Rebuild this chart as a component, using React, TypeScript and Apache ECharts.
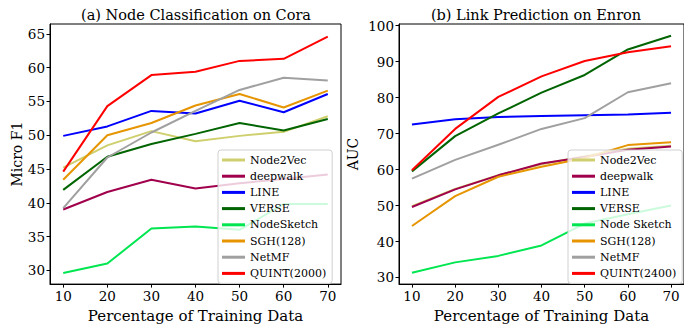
import React, { useEffect, useRef } from "react";
import * as echarts from "echarts";

const trainPct = [10, 20, 30, 40, 50, 60, 70];
const xTicks = [10, 20, 30, 40, 50, 60, 70];
const yTicksCora = [30, 35, 40, 45, 50, 55, 60, 65];
const yTicksEnron = [30, 40, 50, 60, 70, 80, 90, 100];

const namesCora = ["Node2Vec", "deepwalk", "LINE", "VERSE", "NodeSketch", "SGH(128)", "NetMF", "QUINT(2000)"];
const namesEnron = ["Node2Vec", "deepwalk", "LINE", "VERSE", "Node Sketch", "SGH(128)", "NetMF", "QUINT(2400)"];
const colors = ["#cfcf6e", "#a0004c", "#0000ff", "#006400", "#00e650", "#e69500", "#a0a0a0", "#ff0000"];

const node2vecCora = [45.2, 48.5, 50.6, 49.1, 49.9, 50.5, 52.8];
const deepwalkCora = [39.0, 41.6, 43.4, 42.1, 42.9, 43.5, 44.2];
const lineCora = [49.9, 51.3, 53.6, 53.2, 55.1, 53.4, 56.1];
const verseCora = [41.9, 46.8, 48.7, 50.2, 51.8, 50.7, 52.4];
const nodeSketchCora = [29.6, 31.0, 36.2, 36.5, 36.0, 39.8, 39.8];
const sghCora = [43.4, 50.0, 51.8, 54.4, 56.1, 54.1, 56.6];
const netmfCora = [39.2, 46.7, 50.4, 53.6, 56.7, 58.5, 58.1];
const quintCora = [44.6, 54.3, 58.9, 59.4, 61.0, 61.3, 64.6];

const node2vecEnron = [49.8, 54.6, 58.4, 61.5, 63.8, 65.8, 66.6];
const deepwalkEnron = [49.6, 54.5, 58.4, 61.7, 63.5, 65.5, 66.4];
const lineEnron = [72.5, 74.0, 74.6, 74.9, 75.1, 75.3, 75.8];
const verseEnron = [59.5, 69.3, 75.6, 81.4, 86.3, 93.4, 97.2];
const nodeSketchEnron = [31.3, 34.2, 36.0, 38.9, 45.0, 47.6, 50.0];
const sghEnron = [44.3, 52.6, 58.0, 60.8, 63.2, 66.8, 67.6];
const netmfEnron = [57.5, 62.7, 66.9, 71.3, 74.3, 81.5, 84.0];
const quintEnron = [59.8, 71.3, 80.2, 85.9, 90.2, 92.6, 94.3];

const coraSeries = [node2vecCora, deepwalkCora, lineCora, verseCora, nodeSketchCora, sghCora, netmfCora, quintCora];
const enronSeries = [node2vecEnron, deepwalkEnron, lineEnron, verseEnron, nodeSketchEnron, sghEnron, netmfEnron, quintEnron];

const FONT = "DejaVu Serif";

function makeXAxis(gridIndex: number) {
  return {
    type: "value",
    gridIndex,
    min: 7,
    max: 73,
    name: "Percentage of Training Data",
    nameLocation: "middle",
    nameGap: 20,
    nameTextStyle: { fontFamily: FONT, fontSize: 15, color: "#000" },
    axisLine: { show: true, lineStyle: { color: "#000", width: 1 } },
    axisTick: { show: true, inside: false, length: 3.5, customValues: xTicks, lineStyle: { color: "#000" } },
    axisLabel: { show: true, customValues: xTicks, margin: 5, fontFamily: FONT, fontSize: 13.5, color: "#000" },
    splitLine: { show: false },
  };
}

function makeYAxis(gridIndex: number, min: number, max: number, ticks: number[], name: string, nameGap: number) {
  return {
    type: "value",
    gridIndex,
    min,
    max,
    name,
    nameLocation: "middle",
    nameGap,
    nameTextStyle: { fontFamily: FONT, fontSize: 14, color: "#000" },
    axisLine: { show: true, lineStyle: { color: "#000", width: 1 } },
    axisTick: { show: true, inside: false, length: 3.5, customValues: ticks, lineStyle: { color: "#000" } },
    axisLabel: { show: true, customValues: ticks, margin: 5, fontFamily: FONT, fontSize: 13.5, color: "#000" },
    splitLine: { show: false },
  };
}

function makeLegend(left: number, data: string[]) {
  return {
    orient: "vertical",
    left,
    top: 150,
    data,
    icon: "rect",
    itemWidth: 23,
    itemHeight: 3,
    itemGap: 2.2,
    itemStyle: { borderWidth: 0 },
    itemTextGap: 8,
    padding: [3, 6, 3, 4],
    backgroundColor: "rgba(255,255,255,0.8)",
    borderColor: "#d0d0d0",
    borderWidth: 1,
    borderRadius: 3,
    selectedMode: false,
    textStyle: { fontFamily: FONT, fontSize: 11, color: "#000", lineHeight: 14 },
  };
}

export default function App() {
  const ref = useRef<HTMLDivElement>(null);
  useEffect(() => {
    if (!ref.current) return;
    const chart = echarts.init(ref.current, null, { renderer: "svg" });
    const series: any[] = [];
    coraSeries.forEach((vals, i) => {
      series.push({
        type: "line",
        name: namesCora[i],
        xAxisIndex: 0,
        yAxisIndex: 0,
        data: trainPct.map((x, j) => [x, vals[j]]),
        symbol: "none",
        color: colors[i],
        lineStyle: { width: 2, color: colors[i] },
        z: 2 + i * 0.01,
      });
    });
    enronSeries.forEach((vals, i) => {
      series.push({
        type: "line",
        name: namesEnron[i],
        xAxisIndex: 1,
        yAxisIndex: 1,
        data: trainPct.map((x, j) => [x, vals[j]]),
        symbol: "none",
        color: colors[i],
        lineStyle: { width: 2, color: colors[i] },
        z: 2 + i * 0.01,
      });
    });
    chart.setOption({
      animation: false,
      backgroundColor: "#fff",
      grid: [
        { left: 50, top: 24, width: 291, height: 264, show: true, borderColor: "#000", borderWidth: 1, backgroundColor: "transparent" },
        { left: 399, top: 24, width: 289, height: 264, show: true, borderColor: "#000", borderWidth: 1, backgroundColor: "transparent" },
      ],
      xAxis: [makeXAxis(0), makeXAxis(1)],
      yAxis: [
        makeYAxis(0, 27.96, 66.46, yTicksCora, "Micro F1", 26),
        makeYAxis(1, 28.16, 100.47, yTicksEnron, "AUC", 39),
      ],
      legend: [makeLegend(218, namesCora), makeLegend(568, namesEnron)],
      graphic: [
        {
          type: "text",
          x: 196,
          y: 15,
          style: { text: "(a) Node Classification on Cora", fontFamily: FONT, fontSize: 14.5, fill: "#000", textAlign: "center", textVerticalAlign: "middle" },
        },
        {
          type: "text",
          x: 536,
          y: 15,
          style: { text: "(b) Link Prediction on Enron", fontFamily: FONT, fontSize: 14.5, fill: "#000", textAlign: "center", textVerticalAlign: "middle" },
        },
      ],
      series,
    });
    return () => chart.dispose();
  }, []);
  return <div ref={ref} style={{ position: "absolute", left: 0, top: 0, width: 684, height: 328 }} />;
}
